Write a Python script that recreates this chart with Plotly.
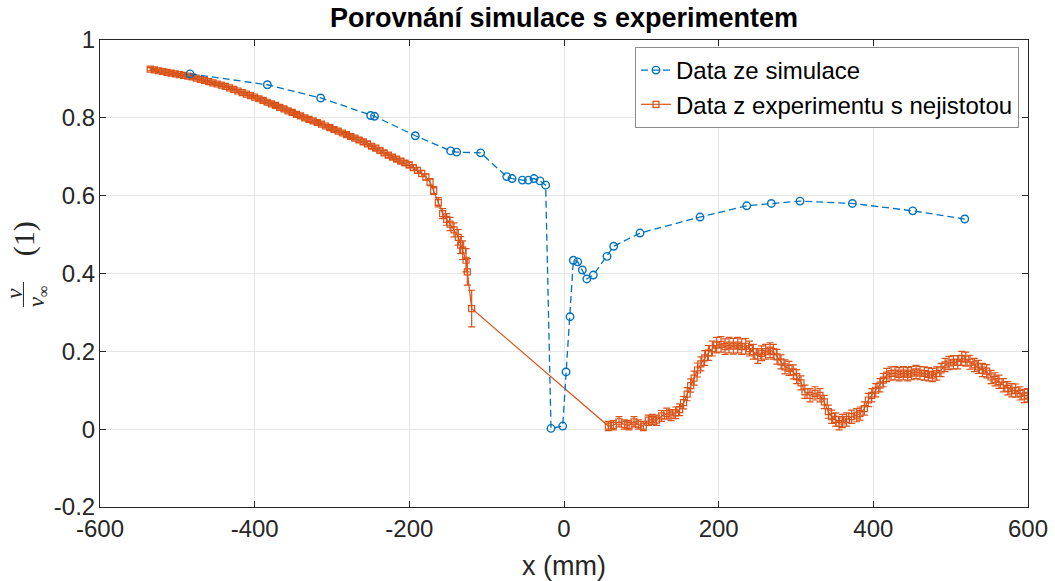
import plotly.graph_objects as go

# ---------------- Simulation data ----------------
sim_x = [-483.6, -383.6, -314.7, -250.0, -245.0, -192.3, -146.6, -138.8, -107.8, -74.1,
         -67.2, -53.9, -46.1, -38.8, -31.0, -23.7, -16.8, -1.7, 2.6, 7.8,
         12.1, 17.7, 23.7, 29.5, 37.9, 55.6, 64.3, 98.3, 175.9, 236.3,
         268.1, 305.2, 372.9, 451.0, 518.2]
sim_y = [0.913, 0.885, 0.851, 0.806, 0.804, 0.754, 0.715, 0.712, 0.710, 0.649,
         0.644, 0.640, 0.640, 0.644, 0.638, 0.627, 0.002, 0.008, 0.147, 0.289,
         0.434, 0.430, 0.409, 0.386, 0.396, 0.444, 0.470, 0.504, 0.545, 0.574,
         0.580, 0.586, 0.580, 0.561, 0.540]

# ---------------- Experimental data (upstream, dense) ----------------
exp_x_up = [-535.0, -529.6, -524.2, -518.8, -513.4, -508.0, -502.6, -497.2, -491.8, -486.4,
            -481.0, -475.6, -470.2, -464.8, -459.4, -454.0, -448.6, -443.2, -437.8, -432.4,
            -427.0, -421.6, -416.2, -410.8, -405.4, -400.0, -394.6, -389.2, -383.8, -378.4,
            -373.0, -367.6, -362.2, -356.8, -351.4, -346.0, -340.6, -335.2, -329.8, -324.4,
            -319.0, -313.6, -308.2, -302.8, -297.4, -292.0, -286.6, -281.2, -275.8, -270.4,
            -265.0, -259.6, -254.2, -248.8, -243.4, -238.0, -232.6, -227.2, -221.8, -216.4,
            -211.0, -205.6, -200.2, -194.8, -189.4, -184.0, -178.6]
exp_y_up = [0.925, 0.923, 0.921, 0.919, 0.917, 0.915, 0.913, 0.911, 0.909, 0.907,
            0.905, 0.902, 0.899, 0.896, 0.893, 0.890, 0.887, 0.884, 0.881, 0.877,
            0.873, 0.869, 0.865, 0.861, 0.857, 0.853, 0.849, 0.845, 0.840, 0.836,
            0.832, 0.827, 0.823, 0.818, 0.814, 0.809, 0.805, 0.800, 0.796, 0.792,
            0.788, 0.784, 0.779, 0.775, 0.770, 0.766, 0.761, 0.757, 0.752, 0.748,
            0.743, 0.738, 0.733, 0.727, 0.722, 0.716, 0.710, 0.704, 0.699, 0.694,
            0.689, 0.684, 0.679, 0.672, 0.665, 0.657, 0.648]
exp_err_up = [0.004, 0.004, 0.004, 0.004, 0.004, 0.004, 0.004, 0.004, 0.004, 0.004,
              0.004, 0.004, 0.004, 0.004, 0.004, 0.004, 0.004, 0.004, 0.004, 0.004,
              0.004, 0.004, 0.004, 0.004, 0.004, 0.004, 0.005, 0.005, 0.005, 0.005,
              0.005, 0.005, 0.005, 0.005, 0.005, 0.005, 0.005, 0.005, 0.005, 0.005,
              0.005, 0.005, 0.005, 0.005, 0.005, 0.005, 0.005, 0.005, 0.005, 0.005,
              0.006, 0.006, 0.006, 0.006, 0.006, 0.006, 0.006, 0.006, 0.006, 0.006,
              0.006, 0.006, 0.007, 0.007, 0.007, 0.008, 0.008]

# ---------------- Experimental data (near body, sparse) ----------------
exp_x_near = [-173.2, -168.5, -162.5, -156.9, -151.7, -147.4, -142.2, -136.7, -133.6, -131.0,
              -126.7, -125.0, -119.4]
exp_y_near = [0.635, 0.613, 0.583, 0.554, 0.539, 0.527, 0.512, 0.493, 0.473, 0.460,
              0.434, 0.404, 0.310]
exp_err_near = [0.009, 0.010, 0.012, 0.013, 0.015, 0.017, 0.018, 0.020, 0.022, 0.024,
                0.030, 0.034, 0.047]

# ---------------- Experimental data (wake) ----------------
exp_x_wake = [57.3, 63.8, 71.1, 78.0, 84.1, 90.5, 96.1, 102.6, 109.0, 114.2,
              119.8, 126.3, 132.8, 138.4, 144.4, 149.5, 154.6, 159.3, 163.8, 168.2,
              172.6, 177.0, 181.9, 186.8, 191.8, 197.4, 203.0, 208.2, 213.4, 218.9,
              224.6, 229.8, 235.0, 239.8, 244.8, 250.5, 255.6, 260.8, 266.4, 270.7,
              275.4, 280.6, 285.8, 291.0, 296.5, 300.9, 306.5, 311.6, 318.1, 324.6,
              331.0, 336.6, 341.8, 346.1, 351.3, 355.6, 359.9, 365.5, 372.0, 378.5,
              382.8, 388.4, 393.6, 397.9, 403.1, 408.6, 412.9, 417.3, 422.9, 428.0,
              433.2, 438.8, 444.4, 449.6, 455.2, 460.4, 466.0, 471.1, 476.3, 481.9,
              487.5, 492.7, 497.9, 503.5, 509.1, 514.3, 519.5, 525.0, 530.6, 535.8,
              541.0, 546.6, 552.2, 557.4, 562.5, 568.1, 573.8, 578.9, 584.1, 589.7,
              595.2, 599.6]
exp_y_wake = [0.008, 0.010, 0.019, 0.012, 0.010, 0.019, 0.012, 0.008, 0.023, 0.025,
              0.023, 0.034, 0.040, 0.036, 0.042, 0.050, 0.068, 0.090, 0.112, 0.131,
              0.152, 0.168, 0.183, 0.196, 0.207, 0.216, 0.218, 0.212, 0.216, 0.213,
              0.216, 0.212, 0.213, 0.207, 0.199, 0.188, 0.195, 0.199, 0.203, 0.199,
              0.186, 0.173, 0.160, 0.156, 0.147, 0.135, 0.119, 0.096, 0.087, 0.092,
              0.087, 0.070, 0.045, 0.032, 0.025, 0.015, 0.021, 0.025, 0.032, 0.036,
              0.040, 0.053, 0.075, 0.087, 0.100, 0.113, 0.126, 0.139, 0.143, 0.144,
              0.141, 0.144, 0.141, 0.144, 0.147, 0.144, 0.143, 0.141, 0.139, 0.143,
              0.152, 0.165, 0.170, 0.172, 0.172, 0.182, 0.180, 0.172, 0.165, 0.160,
              0.152, 0.149, 0.134, 0.128, 0.122, 0.113, 0.105, 0.100, 0.099, 0.092,
              0.085, 0.087]
exp_err_wake = [0.012, 0.012, 0.013, 0.012, 0.012, 0.013, 0.012, 0.012, 0.013, 0.013,
                0.013, 0.014, 0.014, 0.014, 0.015, 0.015, 0.016, 0.017, 0.017, 0.018,
                0.018, 0.018, 0.019, 0.019, 0.019, 0.020, 0.020, 0.020, 0.020, 0.020,
                0.020, 0.020, 0.020, 0.019, 0.019, 0.019, 0.019, 0.019, 0.019, 0.019,
                0.019, 0.018, 0.018, 0.018, 0.018, 0.018, 0.018, 0.017, 0.017, 0.017,
                0.017, 0.017, 0.017, 0.017, 0.017, 0.017, 0.017, 0.017, 0.017, 0.017,
                0.017, 0.017, 0.017, 0.017, 0.017, 0.017, 0.017, 0.017, 0.017, 0.017,
                0.017, 0.017, 0.017, 0.017, 0.017, 0.017, 0.017, 0.017, 0.017, 0.017,
                0.017, 0.017, 0.017, 0.017, 0.017, 0.018, 0.018, 0.018, 0.017, 0.017,
                0.017, 0.017, 0.017, 0.017, 0.017, 0.017, 0.017, 0.017, 0.017, 0.017,
                0.017, 0.017]

exp_x = exp_x_up + exp_x_near + exp_x_wake
exp_y = exp_y_up + exp_y_near + exp_y_wake
exp_err = exp_err_up + exp_err_near + exp_err_wake
assert len(exp_x) == len(exp_y) == len(exp_err)

# ---------------- Ticks ----------------
x_ticks = [-600, -400, -200, 0, 200, 400, 600]
x_tick_labels = ["-600", "-400", "-200", "0", "200", "400", "600"]
y_ticks = [-0.2, 0, 0.2, 0.4, 0.6, 0.8, 1]
y_tick_labels = ["-0.2", "0", "0.2", "0.4", "0.6", "0.8", "1"]

BLUE = "#0072BD"
ORANGE = "#D95319"
AXC = "#262626"

fig = go.Figure()
fig.add_trace(go.Scatter(
    x=exp_x, y=exp_y, mode="lines+markers",
    name="Data z experimentu s nejistotou",
    line=dict(color=ORANGE, width=1.2),
    marker=dict(symbol="square-open", size=6, color=ORANGE, line=dict(width=1.2, color=ORANGE)),
    error_y=dict(type="data", array=exp_err, visible=True, color=ORANGE, thickness=1.2, width=3.5),
    legendrank=2,
))
fig.add_trace(go.Scatter(
    x=sim_x, y=sim_y, mode="lines+markers",
    name="Data ze simulace",
    line=dict(color=BLUE, width=1.3, dash="7px,4px"),
    marker=dict(symbol="circle-open", size=7.5, color=BLUE, line=dict(width=1.4, color=BLUE)),
    legendrank=1,
))

fig.update_layout(
    width=1055, height=581,
    margin=dict(l=100, r=27, t=40, b=74),
    paper_bgcolor="white", plot_bgcolor="white",
    font=dict(family="Liberation Sans, Arial, sans-serif", size=24, color=AXC),
    title=dict(text="<b>Porovnání simulace s experimentem</b>",
               x=0.5, xref="paper", xanchor="center",
               y=1 - 18 / 581, yref="container", yanchor="middle",
               font=dict(size=27, color="black")),
    showlegend=True,
    legend=dict(x=0.9903, xanchor="right", y=0.985, yanchor="top",
                bgcolor="white", bordercolor="#8C8C8C", borderwidth=1,
                font=dict(size=24, color="black"), tracegroupgap=0),
)

fig.update_xaxes(
    range=[-600, 600], tickvals=x_ticks, ticktext=x_tick_labels,
    showgrid=True, gridcolor="#E6E6E6", gridwidth=1, zeroline=False,
    showline=True, linecolor=AXC, linewidth=1, mirror="ticks",
    ticks="inside", ticklen=6, tickcolor=AXC, automargin=False,
    title=dict(text="x (mm)", font=dict(size=27, color=AXC), standoff=16),
)
fig.update_yaxes(
    range=[-0.2, 1], tickvals=y_ticks, ticktext=y_tick_labels,
    showgrid=True, gridcolor="#E6E6E6", gridwidth=1, zeroline=False,
    showline=True, linecolor=AXC, linewidth=1, mirror="ticks",
    ticks="inside", ticklen=6, tickcolor=AXC, automargin=False,
    ticklabelstandoff=-1,
)

# y-axis label: v / v_inf (1), rotated
serif = "Liberation Serif, DejaVu Serif, serif"
fig.add_annotation(text="<i>v</i>", x=-0.093, y=0.458, xref="paper", yref="paper",
                   textangle=-90, showarrow=False, xanchor="center", yanchor="middle",
                   font=dict(family=serif, size=23, color=AXC))
fig.add_annotation(text="<i>v</i><sub>∞</sub>", x=-0.0665, y=0.452, xref="paper", yref="paper",
                   textangle=-90, showarrow=False, xanchor="center", yanchor="middle",
                   font=dict(family=serif, size=23, color=AXC))
fig.add_shape(type="line", xref="paper", yref="paper", x0=-0.0825, x1=-0.0825,
              y0=0.4283, y1=0.4818, line=dict(color=AXC, width=1))
fig.add_annotation(text="(1)", x=-0.081, y=0.575, xref="paper", yref="paper",
                   textangle=-90, showarrow=False, xanchor="center", yanchor="middle",
                   font=dict(family=serif, size=30, color=AXC))

# remove the default 8 px page margin so the figure starts at the window corner
fig.write_html("out.html", config={"displayModeBar": False},
               post_script="document.body.style.margin='0px';")
